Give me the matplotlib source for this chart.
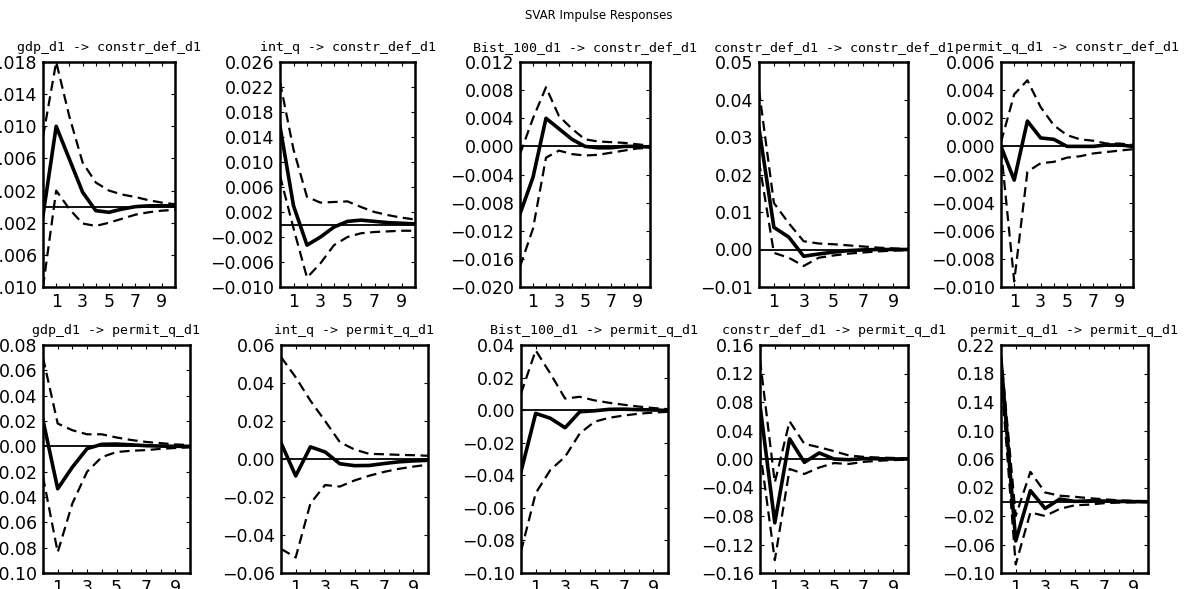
import numpy as np
import matplotlib
matplotlib.use("Agg")
import matplotlib.pyplot as plt

steps = list(range(11))

titles = ["gdp_d1 -> constr_def_d1", "int_q -> constr_def_d1", "Bist_100_d1 -> constr_def_d1",
          "constr_def_d1 -> constr_def_d1", "permit_q_d1 -> constr_def_d1",
          "gdp_d1 -> permit_q_d1", "int_q -> permit_q_d1", "Bist_100_d1 -> permit_q_d1",
          "constr_def_d1 -> permit_q_d1", "permit_q_d1 -> permit_q_d1"]

# responses of constr_def_d1
irf_gdp_c = [-0.0011, 0.0100, 0.0059, 0.0018, -0.0005, -0.0007, -0.0003, 0.0000, 0.0001, 0.0001, 0.0001]
hi_gdp_c = [0.0087, 0.0180, 0.0112, 0.0055, 0.0030, 0.0020, 0.0015, 0.0012, 0.0008, 0.0005, 0.0003]
lo_gdp_c = [-0.0100, 0.0020, -0.0003, -0.0021, -0.0024, -0.0020, -0.0015, -0.0010, -0.0007, -0.0005, -0.0004]

irf_int_c = [0.0157, 0.0030, -0.0033, -0.0020, -0.0004, 0.0005, 0.0007, 0.0005, 0.0003, 0.0002, 0.0001]
hi_int_c = [0.0228, 0.0120, 0.0044, 0.0035, 0.0036, 0.0037, 0.0028, 0.0020, 0.0015, 0.0011, 0.0008]
lo_int_c = [0.0078, -0.0006, -0.0085, -0.0062, -0.0033, -0.0020, -0.0014, -0.0012, -0.0011, -0.0010, -0.0010]

irf_bist_c = [-0.0096, -0.0044, 0.0040, 0.0025, 0.0010, 0.0000, -0.0002, -0.0002, 0.0000, 0.0000, -0.0001]
hi_bist_c = [-0.0011, 0.0040, 0.0084, 0.0043, 0.0025, 0.0010, 0.0007, 0.0006, 0.0005, 0.0003, 0.0001]
lo_bist_c = [-0.0171, -0.0117, -0.0016, -0.0006, -0.0011, -0.0013, -0.0012, -0.0009, -0.0006, -0.0003, -0.0002]

irf_cons_c = [0.0323, 0.0059, 0.0033, -0.0018, -0.0012, -0.0007, -0.0003, -0.0001, 0.0000, 0.0000, 0.0000]
hi_cons_c = [0.0425, 0.0124, 0.0070, 0.0022, 0.0016, 0.0014, 0.0011, 0.0008, 0.0005, 0.0003, 0.0001]
lo_cons_c = [0.0235, -0.0009, -0.0022, -0.0044, -0.0022, -0.0016, -0.0011, -0.0008, -0.0005, -0.0003, -0.0002]

irf_perm_c = [0.0000, -0.0024, 0.0018, 0.0006, 0.0005, 0.0000, 0.0000, 0.0000, 0.0001, 0.0001, 0.0000]
hi_perm_c = [0.0003, 0.0037, 0.0047, 0.0028, 0.0015, 0.0008, 0.0005, 0.0004, 0.0002, 0.0002, 0.0001]
lo_perm_c = [-0.0002, -0.0096, -0.0018, -0.0012, -0.0011, -0.0008, -0.0007, -0.0005, -0.0004, -0.0003, -0.0002]

# responses of permit_q_d1
irf_gdp_p = [0.0206, -0.0335, -0.0164, -0.0018, 0.0016, 0.0018, 0.0012, 0.0005, 0.0002, 0.0000, 0.0000]
hi_gdp_p = [0.0700, 0.0180, 0.0127, 0.0095, 0.0095, 0.0070, 0.0050, 0.0035, 0.0025, 0.0015, 0.0010]
lo_gdp_p = [-0.0240, -0.0836, -0.0450, -0.0200, -0.0085, -0.0045, -0.0035, -0.0030, -0.0020, -0.0013, -0.0008]

irf_int_p = [0.0085, -0.0089, 0.0064, 0.0037, -0.0025, -0.0035, -0.0034, -0.0024, -0.0015, -0.0010, -0.0007]
hi_int_p = [0.0537, 0.0430, 0.0307, 0.0200, 0.0089, 0.0050, 0.0027, 0.0025, 0.0022, 0.0020, 0.0017]
lo_int_p = [-0.0473, -0.0518, -0.0234, -0.0137, -0.0145, -0.0113, -0.0088, -0.0068, -0.0052, -0.0040, -0.0030]

irf_bist_p = [-0.0377, -0.0020, -0.0050, -0.0108, -0.0010, -0.0004, 0.0005, 0.0006, 0.0003, 0.0001, -0.0002]
hi_bist_p = [0.0102, 0.0367, 0.0224, 0.0071, 0.0082, 0.0060, 0.0045, 0.0033, 0.0022, 0.0013, 0.0006]
lo_bist_p = [-0.0867, -0.0510, -0.0367, -0.0286, -0.0143, -0.0071, -0.0047, -0.0033, -0.0022, -0.0015, -0.0010]

irf_cons_p = [0.0755, -0.0896, 0.0283, -0.0047, 0.0085, 0.0000, -0.0010, 0.0005, 0.0003, 0.0001, 0.0000]
hi_cons_p = [0.1390, -0.0330, 0.0528, 0.0212, 0.0165, 0.0110, 0.0050, 0.0030, 0.0020, 0.0015, 0.0008]
lo_cons_p = [0.0130, -0.1420, -0.0140, -0.0210, -0.0120, -0.0057, -0.0070, -0.0040, -0.0025, -0.0015, -0.0010]

irf_perm_p = [0.1995, -0.0550, 0.0156, -0.0094, 0.0038, 0.0005, 0.0012, 0.0010, 0.0005, 0.0002, 0.0000]
hi_perm_p = [0.2066, -0.0200, 0.0420, 0.0130, 0.0085, 0.0070, 0.0050, 0.0035, 0.0020, 0.0012, 0.0006]
lo_perm_p = [0.1780, -0.0880, -0.0150, -0.0200, -0.0100, -0.0050, -0.0040, -0.0020, -0.0012, -0.0008, -0.0004]

irfs = [irf_gdp_c, irf_int_c, irf_bist_c, irf_cons_c, irf_perm_c,
        irf_gdp_p, irf_int_p, irf_bist_p, irf_cons_p, irf_perm_p]
his = [hi_gdp_c, hi_int_c, hi_bist_c, hi_cons_c, hi_perm_c,
       hi_gdp_p, hi_int_p, hi_bist_p, hi_cons_p, hi_perm_p]
los = [lo_gdp_c, lo_int_c, lo_bist_c, lo_cons_c, lo_perm_c,
       lo_gdp_p, lo_int_p, lo_bist_p, lo_cons_p, lo_perm_p]

# y axis: (min, max, step, decimals)
y_axes = [(-0.010, 0.018, 0.004, 3), (-0.010, 0.026, 0.004, 3), (-0.020, 0.012, 0.004, 3),
          (-0.01, 0.05, 0.01, 2), (-0.010, 0.006, 0.002, 3),
          (-0.10, 0.08, 0.02, 2), (-0.06, 0.06, 0.02, 2), (-0.10, 0.04, 0.02, 2),
          (-0.16, 0.16, 0.04, 2), (-0.10, 0.22, 0.04, 2)]

W, H = 1197, 589
# axes boxes in pixels: left, right, top, bottom
boxes = [(43, 175, 62, 287), (280, 415, 62, 287), (520, 650, 62, 287),
         (759, 908, 62, 287), (1001, 1133, 62, 287),
         (43, 190, 345, 573), (281, 428, 345, 573), (521, 668, 345, 573),
         (760, 908, 345, 573), (1001, 1148, 345, 573)]

fig = plt.figure(figsize=(W / 100, H / 100), dpi=100)
fig.text(0.5, 1 - 15 / H, "SVAR Impulse Responses", ha="center", va="center",
         fontsize=8.5, family="DejaVu Sans")

for i in range(10):
    l, r, t, b = boxes[i]
    ax = fig.add_axes([l / W, 1 - b / H, (r - l) / W, (b - t) / H])
    ymin, ymax, step, dec = y_axes[i]
    ax.axhline(0, color="black", lw=1.3)
    ax.plot(steps, his[i], color="black", lw=1.6, ls=(0, (4.5, 2.5)))
    ax.plot(steps, los[i], color="black", lw=1.6, ls=(0, (4.5, 2.5)))
    ax.plot(steps, irfs[i], color="black", lw=2.6)
    ax.set_xlim(0, 10)
    ax.set_ylim(ymin, ymax)
    n = int(round((ymax - ymin) / step)) + 1
    yt = np.linspace(ymin, ymax, n)
    ax.set_yticks(yt)
    ax.set_yticklabels([f"{v:.{dec}f}".replace("-0.", "\u22120.") if abs(v) > 1e-12 else f"{0:.{dec}f}" for v in yt])
    ax.set_xticks(range(11))
    ax.set_xticklabels([str(k) if k % 2 == 1 else "" for k in range(11)])
    ax.tick_params(direction="in", top=True, right=True, length=3, width=0.8,
                   labelsize=12.5, pad=4)
    for s in ax.spines.values():
        s.set_linewidth(1.8)
    ax.set_title(titles[i], fontsize=9.5, family="DejaVu Sans Mono", pad=8)

fig.savefig("out.png", dpi=100)
